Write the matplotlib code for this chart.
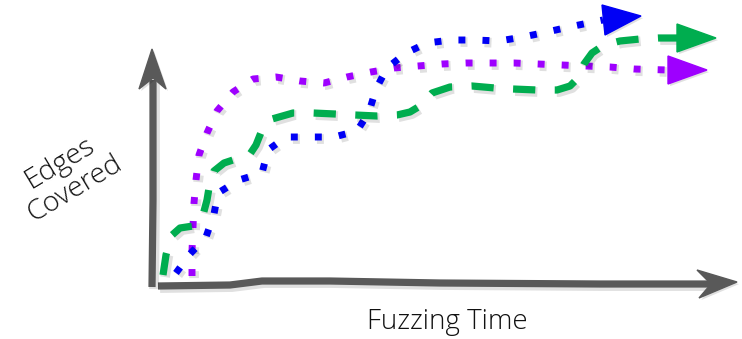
import matplotlib
matplotlib.use("Agg")
import matplotlib.pyplot as plt
import matplotlib.patheffects as pe
from matplotlib.patches import Polygon

# ---- traced series (pixel space of the sketch: x right, y down) ----
purple_x = [192, 192, 193, 194, 196, 199, 207, 217, 233, 253, 276, 300, 324, 347, 371, 394, 418, 442, 466, 490, 514, 538, 562, 586, 610, 634, 668]
purple_y = [276, 251, 227, 203, 180, 155, 133, 111, 92, 79, 77, 81, 83, 77, 72, 68, 66, 64, 63, 63, 63, 64, 65, 66, 67, 69, 70]

blue_x = [176, 190, 206, 214, 218, 239, 262, 268, 286, 311, 334, 357, 369, 376, 387, 406, 427, 451, 475, 499, 523, 547, 569, 603]
blue_y = [273, 254, 237, 214, 193, 180, 173, 150, 137, 137, 137, 131, 112, 89, 68, 53, 43, 40, 40, 41, 37, 32, 27, 20]

green_x = [163, 166, 171, 180, 193, 203, 207, 209, 214, 224, 236, 250, 256, 262, 272, 293, 313, 335, 355, 377, 397, 410, 420, 432, 450, 472, 495, 513, 537, 557, 570, 578, 584, 592, 604, 620, 640, 658, 677]
green_y = [275, 255, 236, 228, 226, 215, 200, 188, 171, 163, 159, 154, 145, 130, 119, 113, 113, 114, 115, 116, 115, 112, 106, 93, 87, 86, 88, 89, 90, 90, 86, 78, 64, 53, 45, 41, 39, 38, 38]

xaxis_x = [158, 230, 262, 330, 440, 600, 712]
xaxis_y = [286, 285, 281, 281, 283, 284, 284]
yaxis_x = [152, 153, 153]
yaxis_y = [287, 200, 80]

x_label = "Fuzzing Time"
y_label = "Edges\nCovered"

GREY = "#595959"
BLUE = "#0000F5"
PURPLE = "#9E00FF"
GREEN = "#00AD4F"

plt.rcParams["lines.scale_dashes"] = False
fig = plt.figure(figsize=(7.42, 3.39), dpi=100)
ax = fig.add_axes([0, 0, 1, 1])
ax.set_xlim(0, 742)
ax.set_ylim(339, 0)
ax.axis("off")

shadow = [pe.SimpleLineShadow(offset=(1.5, -1.5), shadow_color="#000000", alpha=0.12, linewidth=7), pe.Normal()]
pshadow = [pe.SimplePatchShadow(offset=(1.5, -1.5), shadow_rgbFace="#000000", alpha=0.12), pe.Normal()]

# axes
ax.plot(xaxis_x, xaxis_y, color=GREY, lw=5.2, solid_capstyle="butt", solid_joinstyle="round", path_effects=shadow, zorder=2)
ax.plot(yaxis_x, yaxis_y, color=GREY, lw=5.2, solid_capstyle="butt", path_effects=shadow, zorder=2)
ax.add_patch(Polygon([(737, 282), (697, 270), (711, 284), (699, 298)], closed=True, color=GREY, path_effects=pshadow, zorder=2))
ax.add_patch(Polygon([(152, 49), (166, 89), (153, 78), (139, 89)], closed=True, color=GREY, path_effects=pshadow, zorder=2))

# series
ax.plot(purple_x, purple_y, color=PURPLE, lw=5.0, dashes=(5.0, 12.3), dash_capstyle="butt",
        solid_joinstyle="round", path_effects=shadow, zorder=3)
ax.plot(blue_x, blue_y, color=BLUE, lw=5.0, dashes=(5.0, 12.3), dash_capstyle="butt",
        path_effects=shadow, zorder=3)
ax.plot(green_x, green_y, color=GREEN, lw=5.2, dashes=(16, 14), dash_capstyle="butt",
        path_effects=shadow, zorder=3)

ax.add_patch(Polygon([(641, 16), (602, 5), (605, 35)], closed=True, color=BLUE, path_effects=pshadow, zorder=4))
ax.add_patch(Polygon([(707, 70), (668, 56), (668, 84)], closed=True, color=PURPLE, path_effects=pshadow, zorder=4))
ax.add_patch(Polygon([(716, 38), (677, 24), (677, 52)], closed=True, color=GREEN, path_effects=pshadow, zorder=4))

# labels
ax.text(447, 322, x_label, ha="center", va="center", fontsize=20, color="#111111",
        family=["Open Sans", "DejaVu Sans"], fontweight="light")
ax.text(67, 176, y_label, ha="center", va="center", fontsize=20.5, color="#111111",
        rotation=31, rotation_mode="anchor", multialignment="center", linespacing=1.1,
        family=["Open Sans", "DejaVu Sans"], fontweight="light")

fig.savefig("out.png", dpi=100)
